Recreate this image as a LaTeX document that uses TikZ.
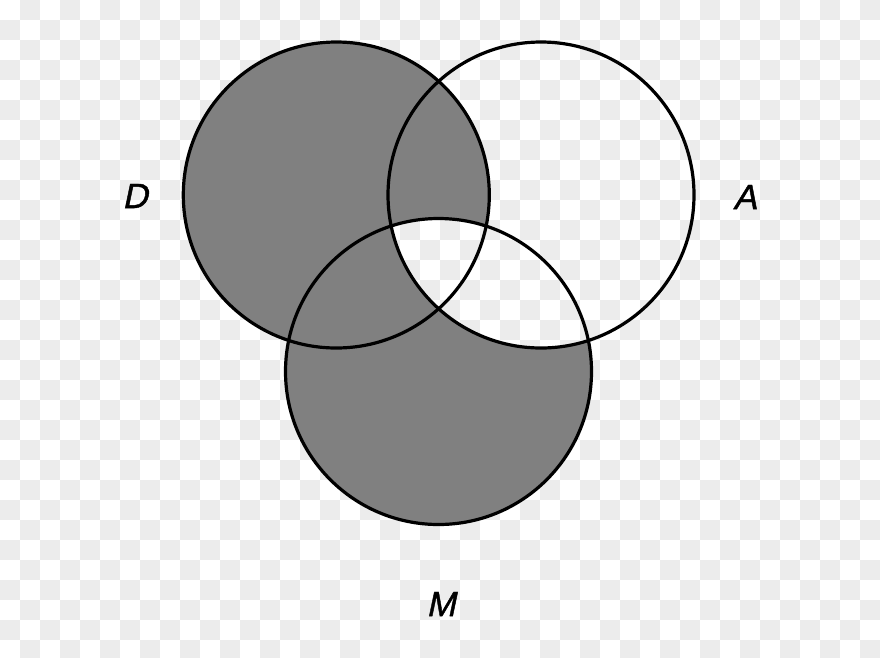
\documentclass[tikz,border=0pt]{standalone}
\usepackage{fontspec}
\setmainfont{Liberation Sans}
\newfontfamily\labelfont[FakeBold=1.2,FakeSlant=0.21]{Liberation Sans}
\definecolor{checkgray}{HTML}{ECECEC}
\definecolor{setgray}{HTML}{808080}
\newcommand\mycheckerboard{%
  \fill[white] (0,0) rectangle (880,657);
  \foreach \i in {0,...,43}{
    \foreach \j in {0,...,32}{
      \pgfmathtruncatemacro\cellparity{mod(\i+\j,2)}
      \ifnum\cellparity=1 \fill[checkgray] (20*\i,20*\j) rectangle ++(20,20);\fi
    }
  }%
}
\tikzset{
  setcircle/.style={draw=black, line width=3.2pt},
  setlabel/.style={font=\fontsize{35}{35}\labelfont, inner sep=0pt}
}
\begin{document}
\begin{tikzpicture}[x=1pt,y=-1pt]
\useasboundingbox (0,0) rectangle (880,657);
\begin{scope}
\clip (0,0) rectangle (880,657);
\mycheckerboard
\end{scope}
\coordinate (cD) at (336.3,195);
\coordinate (cA) at (541,195);
\coordinate (cM) at (438.5,371.5);
\fill[setgray] (cD) circle[radius=153];
\fill[setgray] (cM) circle[radius=153];
\begin{scope}
\clip (cA) circle[radius=153];
\clip (cM) circle[radius=153];
\mycheckerboard
\end{scope}
\draw[setcircle] (cD) circle[radius=153];
\draw[setcircle] (cA) circle[radius=153];
\draw[setcircle] (cM) circle[radius=153];
\node[setlabel] (D) at (135,196) {D};
\node[setlabel] (A) at (745,197) {A};
\node[setlabel] (M) at (441,604) {M};
\end{tikzpicture}
\end{document}
